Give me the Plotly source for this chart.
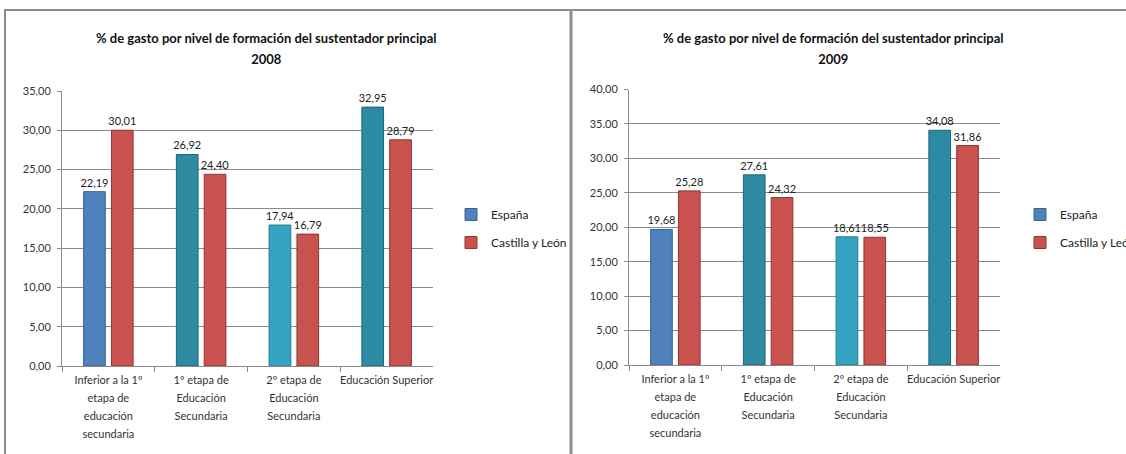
import plotly.graph_objects as go

categories = [
    "Inferior a la 1º<br>etapa de<br>educación<br>secundaria",
    "1º etapa de<br>Educación<br>Secundaria",
    "2º etapa de<br>Educación<br>Secundaria",
    "Educación Superior",
]
espana_2008 = [22.19, 26.92, 17.94, 32.95]
cyl_2008 = [30.01, 24.40, 16.79, 28.79]
espana_2009 = [19.68, 27.61, 18.61, 34.08]
cyl_2009 = [25.28, 24.32, 18.55, 31.86]

ticks_2008 = [0, 5, 10, 15, 20, 25, 30, 35]
ticktext_2008 = ["0,00", "5,00", "10,00", "15,00", "20,00", "25,00", "30,00", "35,00"]
ticks_2009 = [0, 5, 10, 15, 20, 25, 30, 35, 40]
ticktext_2009 = ["0,00", "5,00", "10,00", "15,00", "20,00", "25,00", "30,00", "35.00", "40,00"]

title_text = "% de gasto por nivel de formación del sustentador principal"

FONT = "Lato, Open Sans, sans-serif"
esp_colors = ["#4F81BD", "#2E8AA1", "#35A3C2", "#2B8BA5"]
esp_lines = ["#3A6290", "#1F6475", "#237A92", "#1E6579"]
red = "#C9514E"
red_line = "#8E3734"
GRID = "#8A8A8A"


def fmt(v):
    return f"{v:.2f}".replace(".", ",")


def spaced(lines_text, px_size, bold=False):
    parts = []
    for ln in lines_text.split("<br>"):
        s = f"<span style='font-size:{px_size}px'>{ln}</span>"
        parts.append(f"<b>{s}</b>" if bold else s)
    return "<br>".join(parts)


# category tick text: small glyphs, larger line spacing (em of the outer font)
cat_ticktext = [spaced(c, 11) for c in categories]

fig = go.Figure()

for (esp, cyl, xa, ya, leg) in [
    (espana_2008, cyl_2008, "x", "y", "legend"),
    (espana_2009, cyl_2009, "x2", "y2", "legend2"),
]:
    fig.add_trace(go.Bar(
        x=categories, y=esp, name="España", xaxis=xa, yaxis=ya, legend=leg,
        legendgroup="esp" + xa,
        marker=dict(color=esp_colors, line=dict(color=esp_lines, width=1)),
        text=[fmt(v) for v in esp], textposition="outside", cliponaxis=False,
        constraintext="none",
        textfont=dict(family=FONT, size=11, color="#222222"),
    ))
    fig.add_trace(go.Bar(
        x=categories, y=cyl, name="Castilla y León", xaxis=xa, yaxis=ya, legend=leg,
        legendgroup="cyl" + xa,
        marker=dict(color=red, line=dict(color=red_line, width=1)),
        text=[fmt(v) for v in cyl], textposition="outside", cliponaxis=False,
        constraintext="none",
        textfont=dict(family=FONT, size=11, color="#222222"),
    ))

W, H = 1126, 454


def px(x):
    return x / W


def py(y):
    return (H - y) / H


xcommon = dict(
    type="category", showline=True, linecolor=GRID, linewidth=1,
    ticks="outside", tickson="boundaries", ticklen=5, tickcolor=GRID,
    tickangle=0, automargin=False,
    tickvals=categories, ticktext=cat_ticktext,
    tickfont=dict(family=FONT, size=14, color="#333333"), showgrid=False,
    fixedrange=True,
)
ycommon = dict(
    showline=True, linecolor=GRID, linewidth=1, showgrid=True, gridcolor=GRID,
    gridwidth=1, ticks="outside", ticklen=4, tickcolor=GRID, automargin=False,
    ticklabelstandoff=4,
    tickfont=dict(family=FONT, size=11, color="#333333"), zeroline=False,
    fixedrange=True,
)

fig.update_layout(
    width=W, height=H,
    margin=dict(l=0, r=0, t=0, b=0, autoexpand=False),
    paper_bgcolor="white", plot_bgcolor="white",
    barmode="group", bargap=0.4, bargroupgap=0.22,
    showlegend=True,
    font=dict(family=FONT, size=12, color="#333333"),
    xaxis=dict(domain=[px(62), px(433)], anchor="y", **xcommon),
    yaxis=dict(domain=[py(366), py(91)], anchor="x", range=[0, 35],
               tickvals=ticks_2008, ticktext=ticktext_2008, **ycommon),
    xaxis2=dict(domain=[px(629), px(1000)], anchor="y2", **xcommon),
    yaxis2=dict(domain=[py(365), py(89.5)], anchor="x2", range=[0, 40],
                tickvals=ticks_2009, ticktext=ticktext_2009, **ycommon),
    legend=dict(x=px(451), y=py(200), xanchor="left", yanchor="top",
                font=dict(family=FONT, size=12, color="#222222"),
                tracegroupgap=9, itemwidth=30, bgcolor="rgba(0,0,0,0)"),
    legend2=dict(x=px(1020), y=py(200), xanchor="left", yanchor="top",
                 font=dict(family=FONT, size=12, color="#222222"),
                 tracegroupgap=9, itemwidth=30, bgcolor="rgba(0,0,0,0)"),
    annotations=[
        dict(text=spaced(f"{title_text}<br>2008", 13, bold=True), x=px(266), y=py(48),
             xref="paper", yref="paper", xanchor="center", yanchor="middle",
             showarrow=False, font=dict(family=FONT, size=16, color="#111111")),
        dict(text=spaced(f"{title_text}<br>2009", 13, bold=True), x=px(833), y=py(48),
             xref="paper", yref="paper", xanchor="center", yanchor="middle",
             showarrow=False, font=dict(family=FONT, size=16, color="#111111")),
    ],
    shapes=[
        dict(type="line", xref="paper", yref="paper", x0=px(4), x1=1, y0=py(10), y1=py(10),
             line=dict(color="#8C8C8C", width=2)),
        dict(type="line", xref="paper", yref="paper", x0=px(5), x1=px(5), y0=py(10), y1=0,
             line=dict(color="#8C8C8C", width=2)),
        dict(type="line", xref="paper", yref="paper", x0=px(571), x1=px(571), y0=py(10), y1=0,
             line=dict(color="#8C8C8C", width=3)),
    ],
)

fig.write_html(
    "out.html",
    config={"displayModeBar": False},
    post_script="document.body.style.margin='0';document.body.style.overflow='hidden';",
)
